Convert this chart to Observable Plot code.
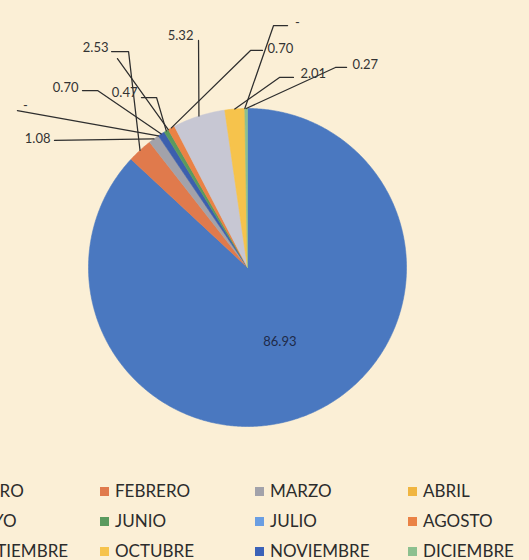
<!DOCTYPE html>
<html><head><meta charset="utf-8">
<script src="https://cdn.jsdelivr.net/npm/d3@7"></script>
<script src="https://cdn.jsdelivr.net/npm/@observablehq/plot@0.6"></script>
<style>
html,body{margin:0;padding:0;background:#fbefd6;overflow:hidden;}
#wrap{position:relative;width:529px;height:560px;overflow:hidden;background:#fbefd6;}
#chart{position:absolute;left:0;top:0;}
#legend{position:absolute;left:0;top:460px;width:529px;height:100px;font-family:Lato,sans-serif;font-size:17px;color:#2c2c2c;}
.item{position:absolute;white-space:nowrap;line-height:20px;height:20px;}
.sw{position:absolute;left:0;top:6px;width:9px;height:9px;}
.lb{position:absolute;left:15px;top:0;}
</style></head><body><div id="wrap"><div id="chart"></div><div id="legend"></div></div>
<script>
// ---- data ----
const months = ["ENERO","FEBRERO","MARZO","ABRIL","MAYO","JUNIO","JULIO","AGOSTO","SEPTIEMBRE","OCTUBRE","NOVIEMBRE","DICIEMBRE"];
const values = [86.93, 2.53, 1.08, 0, 0.70, 0.47, 0, 0.70, 5.32, 2.01, 0, 0.27];
const labels = ["86.93","2.53","1.08","-","0.70","0.47","","0.70","5.32","2.01","-","0.27"];
const colors = ["#4a78c0","#e07a4c","#a2a2aa","#f0b540","#3c5fae","#5a9a5e","#6a9ee2","#ea8245","#c7c7d3","#f6c34c","#3b62b8","#8cc08f"];

// ---- label layout (chart units, pie radius = 1) ----
const labelLayout = [
 {month:"ENERO", inside:0.51},
 {month:"FEBRERO", tx:-0.874, ty:1.384, anchor:"end", sx:-0.855, sy:1.358, ex:-0.748},
 {month:"MARZO", tx:-1.239, ty:0.811, anchor:"end", sx:-1.214, sy:0.799, ex:-1.214},
 {month:"ABRIL", tx:-1.396, ty:1.015, anchor:"middle", sx:-1.447, sy:0.987, ex:-1.447},
 {month:"MAYO", tx:-1.063, ty:1.132, anchor:"end", sx:-1.038, sy:1.113, ex:-0.943},
 {month:"JUNIO", tx:-0.692, ty:1.101, anchor:"end", sx:-0.667, sy:1.069, ex:-0.572},
 {month:"JULIO", tx:-0.818, ty:1.314, anchor:"middle", sx:-0.818, sy:1.314, ex:-0.818},
 {month:"AGOSTO", tx:0.126, ty:1.377, anchor:"start", sx:0.094, sy:1.365, ex:0.019},
 {month:"SEPTIEMBRE", tx:-0.340, ty:1.459, anchor:"end", sx:-0.308, sy:1.428, ex:-0.308},
 {month:"OCTUBRE", tx:0.333, ty:1.220, anchor:"start", sx:0.289, sy:1.195, ex:0.201},
 {month:"NOVIEMBRE", tx:0.314, ty:1.541, anchor:"middle", sx:0.252, sy:1.522, ex:0.164},
 {month:"DICIEMBRE", tx:0.660, ty:1.277, anchor:"start", sx:0.623, sy:1.258, ex:0.553}
];

const rows = months.map((m,i)=>({month:m, value:values[i], label:labels[i]}));
const arcs = d3.pie().sort(null).value(d=>d.value)(rows);

// slice polygons
const slicePts = [];
arcs.forEach(a=>{
  if (a.endAngle - a.startAngle <= 0) return;
  const m = a.data.month;
  slicePts.push({month:m, x:0, y:0});
  const n = Math.max(2, Math.ceil((a.endAngle-a.startAngle)/(Math.PI/360)));
  for (let k=0;k<=n;k++){
    const t = a.startAngle + (a.endAngle-a.startAngle)*k/n;
    slicePts.push({month:m, x:Math.sin(t), y:Math.cos(t)});
  }
  slicePts.push({month:m, x:0, y:0});
});

// leader lines and labels
const leaderPts = [];
const textRows = [];
arcs.forEach(a=>{
  const L = labelLayout.find(l=>l.month===a.data.month);
  const mid = (a.startAngle + a.endAngle)/2;
  if (L.inside){
    textRows.push({label:a.data.label, x:L.inside*Math.sin(mid), y:L.inside*Math.cos(mid), anchor:"inside"});
    return;
  }
  leaderPts.push({month:L.month, x:L.sx, y:L.sy});
  leaderPts.push({month:L.month, x:L.ex, y:L.sy});
  leaderPts.push({month:L.month, x:Math.sin(mid), y:Math.cos(mid)});
  textRows.push({label:a.data.label, x:L.tx, y:L.ty, anchor:L.anchor});
});

const txt = (anchor, ta, extra={}) => Plot.text(textRows.filter(d=>d.anchor===anchor), {
  x:"x", y:"y", text:"label", textAnchor:ta, fontSize:13, fontFamily:"Lato", fill:"#333", ...extra
});

const chart = Plot.plot({
  width:529, height:460, margin:0,
  x:{domain:[-1,1], range:[88,406], axis:null},
  y:{domain:[-1,1], range:[426,108], axis:null},
  color:{domain:months, range:colors},
  style:{background:"transparent", overflow:"visible"},
  marks:[
    Plot.line(slicePts, {x:"x", y:"y", z:"month", fill:"month", stroke:"month", strokeWidth:0.6, curve:"linear"}),
    Plot.line(leaderPts, {x:"x", y:"y", z:"month", stroke:"#2e2e2e", strokeWidth:1.25, curve:"linear"}),
    txt("end","end"), txt("start","start"), txt("middle","middle"),
    txt("inside","middle",{fill:"#1e2a48"})
  ]
});
document.getElementById("chart").appendChild(chart);

// legend: 4 columns, row-major; first column partly cut off at the left edge (as in the reference crop)
const legend = document.getElementById("legend");
const colX = [-48, 100, 255, 408];
const rowY = [21, 51, 81];
months.forEach((m,i)=>{
  const it = document.createElement("div");
  it.className = "item";
  it.style.left = colX[i%4]+"px";
  it.style.top = rowY[Math.floor(i/4)]+"px";
  it.innerHTML = `<span class="sw" style="background:${colors[i]}"></span><span class="lb">${m}</span>`;
  legend.appendChild(it);
});
</script>
</body></html>
